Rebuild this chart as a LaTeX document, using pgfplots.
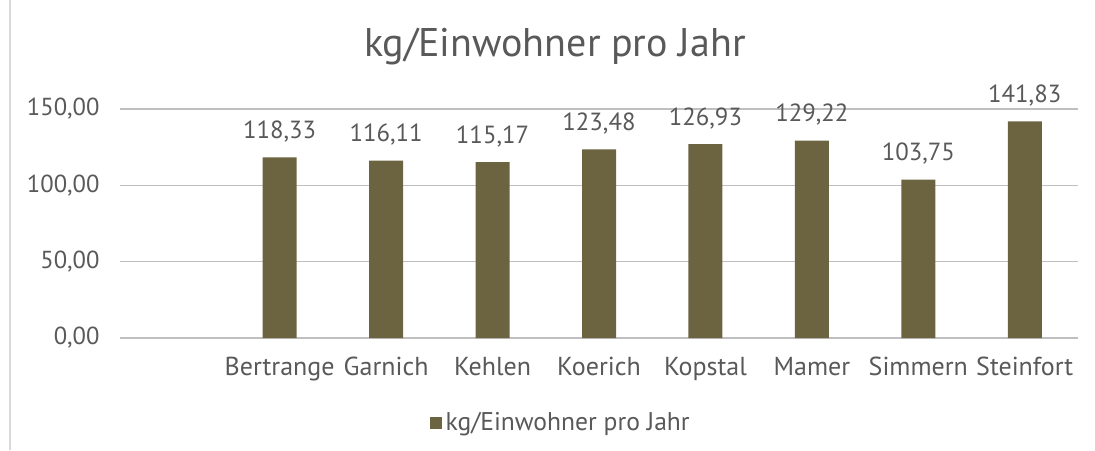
\documentclass[border=0pt]{standalone}
\usepackage{fontspec}
\setmainfont{PT Sans}
\usepackage{pgfplots}
\pgfplotsset{compat=1.18}
\definecolor{bar}{HTML}{6C6441}
\definecolor{txt}{HTML}{595959}
\definecolor{grid}{HTML}{D9D9D9}
\begin{document}
\begin{tikzpicture}
\useasboundingbox (-60pt,-56pt) rectangle (487.5pt,169pt);
\draw[grid, line width=0.6pt] (-55pt,-56pt) -- (-55pt,169pt);
\begin{axis}[
  scale only axis, width=479pt, height=114.5pt,
  at={(0pt,0pt)}, anchor=south west,
  xmin=-0.5, xmax=8.5, ymin=0, ymax=150,
  xtick={1,2,3,4,5,6,7,8},
  xticklabels={Bertrange,Garnich,Kehlen,Koerich,Kopstal,Mamer,Simmern,Steinfort},
  ytick={0,50,100,150},
  axis line style={draw=none},
  major tick length=0pt,
  tick style={draw=none},
  xmajorgrids=false, xminorgrids=false,
  ymajorgrids, grid style={grid, line width=0.8pt},
  clip=false,
  /pgf/number format/assume math mode=true,
  yticklabel={\pgfmathprintnumber[fixed,fixed zerofill,precision=2,use comma,1000 sep={}]{\tick}},
  yticklabel style={font=\fontsize{12.3}{14}\selectfont, text=txt, anchor=east, xshift=-6.7pt},
  xticklabel style={font=\fontsize{13}{14}\selectfont, text=txt, anchor=base, yshift=-18.5pt},
  title={kg/Einwohner pro Jahr},
  title style={font=\fontsize{20}{22}\selectfont, text=txt, at={(0.454,1)}, anchor=base, yshift=20.5pt},
  legend style={at={(0.461,-0.371)}, anchor=center, draw=none, font=\fontsize{12.8}{14}\selectfont, text=txt, legend cell align=left},
  legend image code/.code={\fill[bar] (0pt,-3pt) rectangle (6pt,3pt);},
]
\addplot[ybar, bar width=17pt, fill=bar, draw=none,
  nodes near coords,
  every node near coord/.style={font=\fontsize{12.4}{14}\selectfont, text=txt, anchor=south, yshift=4pt, draw=none, fill=none, /pgf/number format/fixed, /pgf/number format/fixed zerofill, /pgf/number format/precision=2, /pgf/number format/use comma, /pgf/number format/1000 sep={}, /pgf/number format/assume math mode=true}
  ] coordinates {
  (1,118.33) (2,116.11) (3,115.17) (4,123.48) (5,126.93) (6,129.22) (7,103.75) (8,141.83)};
\addlegendentry{kg/Einwohner pro Jahr}
\end{axis}
\end{tikzpicture}
\end{document}
